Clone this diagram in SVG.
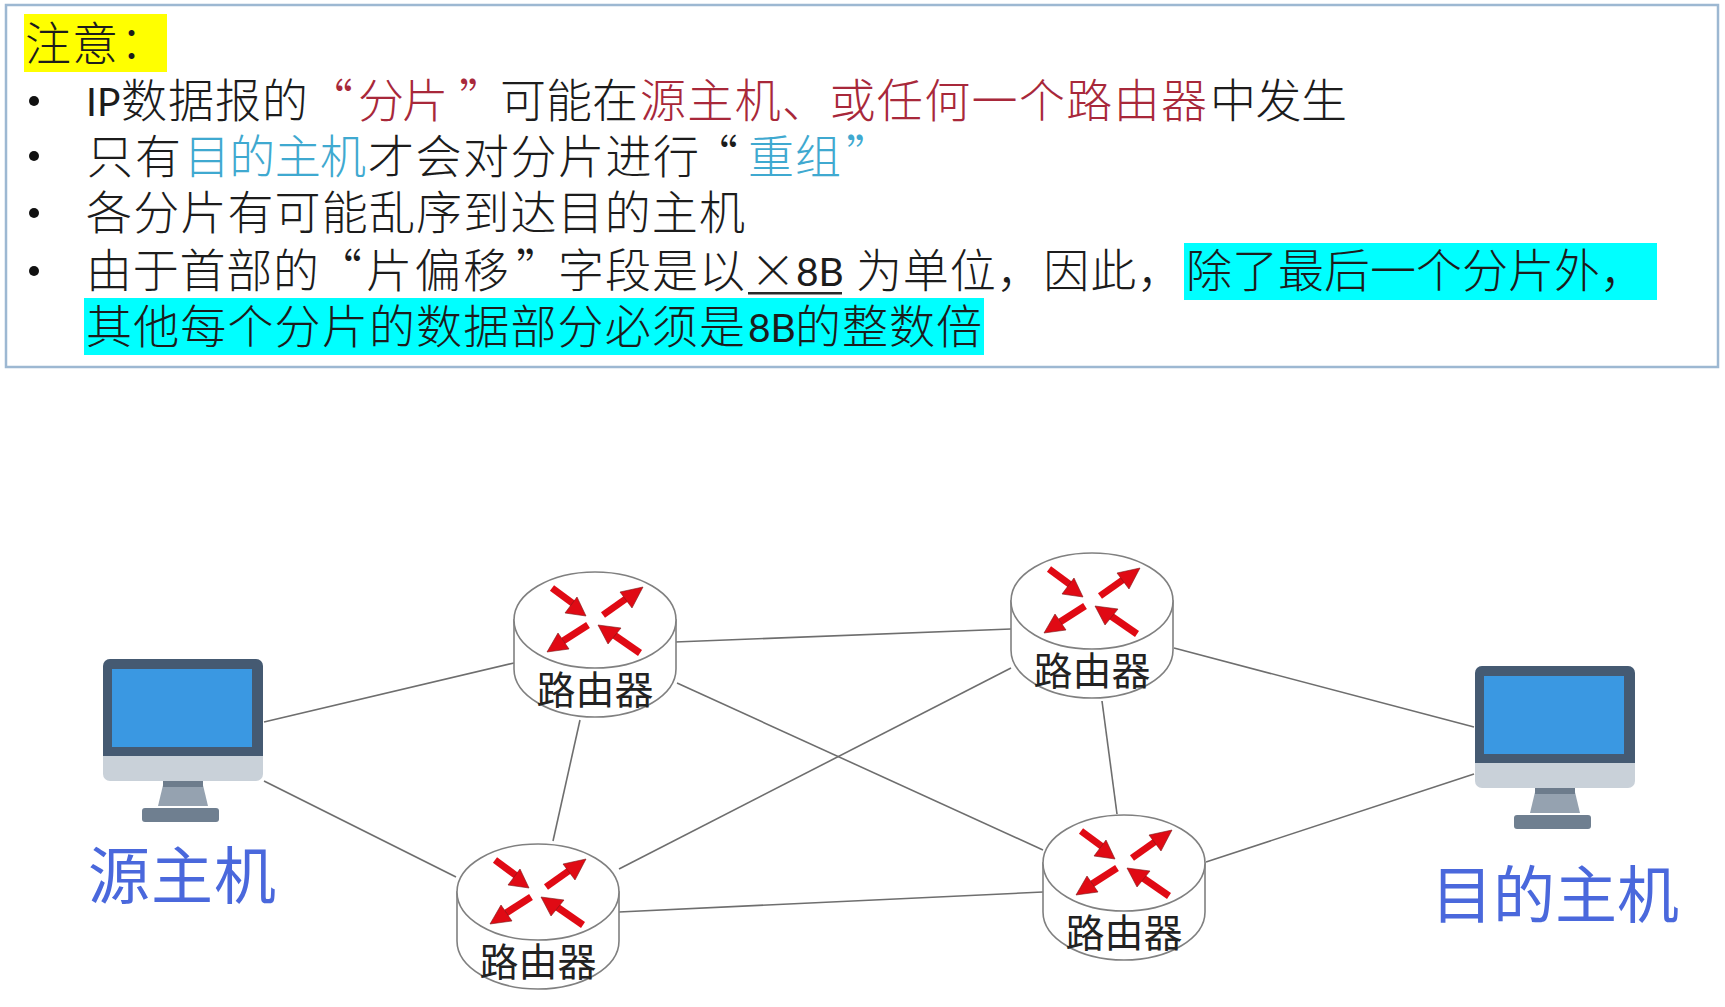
<svg xmlns="http://www.w3.org/2000/svg" width="1725" height="1007" viewBox="0 0 1725 1007">
<defs>
<style>
text{font-family:"Noto Sans CJK SC","Noto Sans",sans-serif;}
.t{font-size:46px;fill:#1c1c1c;font-weight:300}
.lat{font-family:Lato,"Noto Sans",sans-serif;font-size:39px;font-weight:400;fill:#1c1c1c}
.red{fill:#a8283a}
.cy{fill:#3fa9d0}
.lbl{font-size:39px;fill:#222;text-anchor:middle;font-weight:400}
.host{fill:#4a68dc;font-weight:400}
.link{stroke:#6e6e6e;stroke-width:1.6;fill:none}
.rb{fill:#fff;stroke:#808080;stroke-width:1.6}
.ar{stroke:#e00a14;stroke-width:7;fill:none}
.h{fill:#e00a14;stroke:#7a1a1a;stroke-width:.6}
</style>
<g id="arrows">
<path class="ar" d="M-43,-32L-20,-15"/><path class="h" d="M-9,-4L-30,-7L-18,-23Z"/>
<path class="ar" d="M8,-5L32,-22"/><path class="h" d="M48,-33L37,-12L25,-28Z"/>
<path class="ar" d="M-7,5L-32,21"/><path class="h" d="M-48,32L-26,29L-37,13Z"/>
<path class="ar" d="M45,33L19,15"/><path class="h" d="M3,5L26,8L13,24Z"/>
</g>
<g id="routerShape">
<path class="rb" d="M-81,0V49C-81,75 -45,97 0,97C45,97 81,75 81,49V0Z"/>
<ellipse class="rb" cx="0" cy="0" rx="81" ry="48"/>
<use href="#arrows"/>
</g>
<g id="pcShape">
<rect x="103" y="659" width="160" height="122" rx="7" fill="#c9d1d9"/>
<path d="M103,756V666a7,7 0 0 1 7,-7H256a7,7 0 0 1 7,7V756Z" fill="#455a72"/>
<rect x="112" y="669" width="140" height="78" fill="#3a98e2"/>
<path d="M164,781H202L208,806H158Z" fill="#95a2b0"/>
<rect x="163" y="781" width="40" height="6" fill="#6d7c8c"/>
<rect x="142" y="808" width="77" height="14" rx="3" fill="#6f7f90"/>
</g>
</defs>
<rect width="1725" height="1007" fill="#fff"/>
<g id="note">
<rect x="6" y="5" width="1712" height="362" fill="#fff" stroke="#9db8d2" stroke-width="2.5"/>
<rect x="24" y="14" width="143" height="58" fill="#ffff00"/>
<rect x="1184" y="243" width="473" height="57" fill="#00ffff"/>
<rect x="84" y="298" width="900" height="57" fill="#00ffff"/>
<g fill="#111"><circle cx="34" cy="101" r="5"/><circle cx="34" cy="156" r="5"/><circle cx="34" cy="213" r="5"/><circle cx="34" cy="271" r="5"/></g>
<rect x="748" y="292" width="94" height="2.5" fill="#2a2a2a"/>
<text class="t"><tspan x="25" y="60" textLength="93">注意</tspan><tspan x="120" y="58">：</tspan><tspan class="lat" x="86" y="116">IP</tspan><tspan x="121" y="117" textLength="187">数据报的</tspan><tspan class="red" x="307" y="117">“</tspan><tspan class="red" x="358" y="117" textLength="90">分片</tspan><tspan class="red" x="459" y="117">”</tspan><tspan x="500" y="117" textLength="138">可能在</tspan><tspan class="red" x="640" y="117" textLength="567">源主机、或任何一个路由器</tspan><tspan x="1210" y="117" textLength="137">中发生</tspan><tspan x="87" y="173" textLength="94">只有</tspan><tspan class="cy" x="184" y="173" textLength="182">目的主机</tspan><tspan x="368" y="173" textLength="331">才会对分片进行</tspan><tspan x="692" y="173">“</tspan><tspan class="cy" x="748" y="173" textLength="93">重组</tspan><tspan class="cy" x="846" y="173">”</tspan><tspan x="86" y="229" textLength="659">各分片有可能乱序到达目的主机</tspan><tspan x="86" y="287" textLength="233">由于首部的</tspan><tspan x="316" y="287">“</tspan><tspan x="366" y="287" textLength="143">片偏移</tspan><tspan x="516" y="287">”</tspan><tspan x="558" y="287" textLength="187">字段是以</tspan><tspan x="750" y="287">×</tspan><tspan class="lat" x="796" y="286">8B</tspan><tspan x="856" y="287" textLength="327">为单位，因此，</tspan><tspan x="1186" y="287" textLength="460">除了最后一个分片外，</tspan><tspan x="86" y="343" textLength="659">其他每个分片的数据部分必须是</tspan><tspan class="lat" x="748" y="342">8B</tspan><tspan x="795" y="343" textLength="187">的整数倍</tspan></text>
</g>
<g id="connectors">
<path class="link" d="M264,722L514,663"/>
<path class="link" d="M264,781L456,877"/>
<path class="link" d="M675,642L1011,629"/>
<path class="link" d="M677,683L1043,850"/>
<path class="link" d="M580,720L553,841"/>
<path class="link" d="M619,869L1011,668"/>
<path class="link" d="M619,912L1043,892"/>
<path class="link" d="M1102,701L1117,814"/>
<path class="link" d="M1174,648L1474,727"/>
<path class="link" d="M1206,862L1474,774"/>
</g>
<g id="router1" transform="translate(595,620)"><use href="#routerShape"/><text class="lbl" x="0" y="84">路由器</text></g>
<g id="router2" transform="translate(1092,601)"><use href="#routerShape"/><text class="lbl" x="0" y="84">路由器</text></g>
<g id="router3" transform="translate(538,892)"><use href="#routerShape"/><text class="lbl" x="0" y="84">路由器</text></g>
<g id="router4" transform="translate(1124,863)"><use href="#routerShape"/><text class="lbl" x="0" y="84">路由器</text></g>
<g id="source"><use href="#pcShape"/><text class="host" x="88" y="899" font-size="62" textLength="188">源主机</text></g>
<g id="dest"><use href="#pcShape" transform="translate(1372,7)"/><text class="host" x="1431" y="918" font-size="62" textLength="248">目的主机</text></g>
</svg>
